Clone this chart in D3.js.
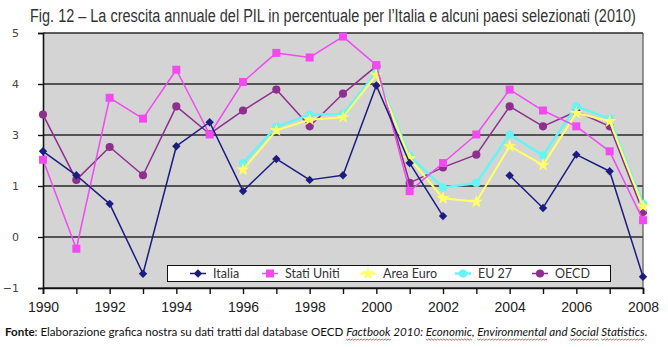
<!DOCTYPE html>
<html>
<head>
<meta charset="utf-8">
<script src="https://cdn.jsdelivr.net/npm/d3@7"></script>
<style>
  html, body { margin: 0; padding: 0; background: #fff; }
  svg { display: block; }
</style>
</head>
<body>
<svg id="chart" width="668" height="347"></svg>
<script>
// Years on the x axis
const years = [1990, 1991, 1992, 1993, 1994, 1995, 1996, 1997, 1998, 1999,
               2000, 2001, 2002, 2003, 2004, 2005, 2006, 2007, 2008];
const xTickYears = [1990, 1992, 1994, 1996, 1998, 2000, 2002, 2004, 2006, 2008];
// Values printed on the y axis
const yTickValues = [5, 4, 3, 1, 0, -1];

// Annual GDP growth (%) per country / area
const italia      = [2.36, 1.42, 0.65, -0.72, 2.56, 3.25, 0.90, 2.06, 1.24, 1.42,
                     3.97, 1.90, 0.41, null, 1.41, 0.57, 2.23, 1.58, -0.78];
const statiUniti  = [2.03, -0.23, 3.73, 3.32, 4.28, 3.01, 4.04, 4.61, 4.52, 4.93,
                     4.37, 0.90, 1.90, 3.01, 3.89, 3.48, 3.17, 2.36, 0.33];
const areaEuro    = [null, null, null, null, null, null, 1.64, 3.09, 3.30, 3.35,
                     4.18, 2.08, 0.76, 0.69, 2.56, 1.82, 3.43, 3.27, 0.60];
const eu27        = [null, null, null, null, null, null, 1.90, 3.16, 3.40, 3.41,
                     4.22, 2.18, 0.97, 1.12, 3.01, 2.20, 3.56, 3.32, 0.65];
const oecd        = [3.40, 1.24, 2.53, 1.42, 3.56, 3.02, 3.48, 3.89, 3.17, 3.81,
                     4.35, 1.12, 1.73, 2.23, 3.56, 3.17, 3.46, 3.17, 0.49];

const seriesNames = ["Italia", "Stati Uniti", "Area Euro", "EU 27", "OECD"];

const series = [
  { name: seriesNames[0], values: italia,     color: "#1c1c80", marker: "diamond", width: 1.5 },
  { name: seriesNames[1], values: statiUniti, color: "#f04af0", marker: "square",  width: 1.5 },
  { name: seriesNames[2], values: areaEuro,   color: "#ffff66", marker: "star",    width: 2 },
  { name: seriesNames[3], values: eu27,       color: "#66f4f4", marker: "circle",  width: 2.5 },
  { name: seriesNames[4], values: oecd,       color: "#8e2e8e", marker: "circle",  width: 1.5 }
];

const svg = d3.select("#chart");
const plot = { left: 43, right: 643, top: 33, bottom: 288 };

const x = d3.scaleLinear().domain([1990, 2008]).range([plot.left, plot.right]);
// The printed y labels are evenly spaced, so the scale is piecewise linear through them
const y = d3.scaleLinear()
  .domain([-1, 0, 1, 3, 4, 5])
  .range([288, 237, 186, 135, 84, 33]);

// Scale a text horizontally so that it spans the target width
function fitTo(sel, x0, y0, target) {
  const w = sel.node().getComputedTextLength();
  const k = target / w;
  sel.attr("x", 0).attr("y", 0)
    .attr("transform", `translate(${x0},${y0}) scale(${k.toFixed(4)},1)`);
  return k;
}

// Title
const title = svg.append("text")
  .style("font-family", "'Liberation Sans Narrow', 'Arial Narrow', 'Liberation Sans', sans-serif")
  .style("font-size", "18px")
  .style("fill", "#333")
  .text("Fig. 12 \u2013 La crescita annuale del PIL in percentuale per l\u2019Italia e alcuni paesi selezionati (2010)");
fitTo(title, 30, 22, 606);

// Plot background
svg.append("rect")
  .attr("x", plot.left).attr("y", plot.top)
  .attr("width", plot.right - plot.left).attr("height", plot.bottom - plot.top)
  .attr("fill", "#d4d4d4");

// Horizontal gridlines
svg.append("g")
  .selectAll("line")
  .data(yTickValues)
  .join("line")
  .attr("x1", plot.left).attr("x2", plot.right)
  .attr("y1", d => y(d)).attr("y2", d => y(d))
  .attr("stroke", "#2a2a2a").attr("stroke-width", 1.6);

// Right border
svg.append("line")
  .attr("x1", plot.right).attr("x2", plot.right)
  .attr("y1", plot.top).attr("y2", plot.bottom)
  .attr("stroke", "#555").attr("stroke-width", 1.2);

// Y axis
const yAxis = d3.axisLeft(y)
  .tickValues(yTickValues)
  .tickSize(5)
  .tickPadding(19)
  .tickFormat(d3.format("d"));
const gy = svg.append("g").attr("transform", `translate(${plot.left},0)`).call(yAxis);
gy.select(".domain").attr("stroke", "#111").attr("stroke-width", 1.6);
gy.selectAll(".tick line").attr("stroke", "#111").attr("stroke-width", 1.4);
gy.selectAll(".tick text")
  .style("font-family", "'DejaVu Sans', sans-serif")
  .style("font-size", "11px")
  .style("fill", "#444");

// X axis
const xAxis = d3.axisBottom(x)
  .tickValues(years)
  .tickSize(6)
  .tickPadding(8)
  .tickFormat(d => xTickYears.includes(d) ? d : "");
const gx = svg.append("g").attr("transform", `translate(0,${plot.bottom})`).call(xAxis);
gx.select(".domain").attr("stroke", "#111").attr("stroke-width", 1.6);
gx.selectAll(".tick line").attr("stroke", "#111").attr("stroke-width", 1.4);
gx.selectAll(".tick text")
  .style("font-family", "'Liberation Sans', Arial, sans-serif")
  .style("font-size", "14px")
  .style("fill", "#222");

// Marker shapes
function markerPath(kind) {
  switch (kind) {
    case "diamond": return "M0,-4.2L4.2,0L0,4.2L-4.2,0Z";
    case "square":  return "M-4,-4H4V4H-4Z";
    case "circle":  return d3.symbol(d3.symbolCircle, 52)();
    case "star":    return d3.symbol(d3.symbolStar, 55)();
  }
}

const line = d3.line()
  .defined(d => d.v != null)
  .x(d => x(d.year))
  .y(d => y(d.v));

// Draw the series; the first one listed ends up on top
const drawOrder = series.slice().reverse();
const gs = svg.append("g")
  .selectAll("g")
  .data(drawOrder)
  .join("g");

gs.append("path")
  .attr("d", s => line(years.map((yr, i) => ({ year: yr, v: s.values[i] }))))
  .attr("fill", "none")
  .attr("stroke", s => s.color)
  .attr("stroke-width", s => s.width)
  .attr("stroke-linejoin", "round");

gs.each(function (s) {
  d3.select(this).selectAll("path.m")
    .data(years.map((yr, i) => ({ year: yr, v: s.values[i] })).filter(d => d.v != null))
    .join("path")
    .attr("class", "m")
    .attr("d", markerPath(s.marker))
    .attr("transform", d => `translate(${x(d.year)},${y(d.v)})`)
    .attr("fill", s.color);
});

// Legend
const legend = svg.append("g");
legend.append("rect")
  .attr("x", 167.5).attr("y", 265.5)
  .attr("width", 443).attr("height", 16)
  .attr("fill", "#fff").attr("stroke", "#111").attr("stroke-width", 1);

const legendX = [198, 270, 368, 463, 540];
series.forEach((s, i) => {
  const cx = legendX[i];
  const g = legend.append("g").attr("transform", `translate(${cx},273.5)`);
  g.append("line").attr("x1", -8).attr("x2", 8)
    .attr("stroke", s.color).attr("stroke-width", s.width);
  g.append("path").attr("d", markerPath(s.marker)).attr("fill", s.color);
  g.append("text")
    .attr("x", 15).attr("y", 4.5)
    .style("font-family", "Lato, 'Open Sans', sans-serif")
    .style("font-size", "12.5px")
    .style("fill", "#333")
    .text(s.name);
});

// Source note
const note = svg.append("text")
  .style("font-family", "Lato, 'Open Sans', sans-serif")
  .style("font-size", "11.5px")
  .style("fill", "#111");
note.append("tspan").style("font-weight", "bold").text("Fonte");
note.append("tspan").text(": Elaborazione grafica nostra su dati tratti dal database OECD ");
note.append("tspan").style("font-style", "italic")
  .text("Factbook 2010: Economic, Environmental and Social Statistics");
note.append("tspan").text(".");
const noteK = fitTo(note, 5, 336, 643);

// Red wavy underline beneath the italic title words
const full = note.text();
const underlined = ["Factbook", "Economic", "Environmental", "Social", "Statistics"];
const nNode = note.node();
underlined.forEach(w => {
  const i0 = full.indexOf(w);
  if (i0 < 0) return;
  const a = nNode.getExtentOfChar(i0);
  const b = nNode.getExtentOfChar(i0 + w.length - 1);
  const x0 = 5 + a.x * noteK, x1 = 5 + (b.x + b.width) * noteK;
  const yy = 339;
  let d = `M${x0},${yy}`;
  for (let px = x0, k = 0; px < x1; px += 1.5, k++) {
    d += `L${Math.min(px + 1.5, x1)},${yy + (k % 2 ? 0 : 1.2)}`;
  }
  svg.append("path").attr("d", d).attr("fill", "none")
    .attr("stroke", "#e03030").attr("stroke-width", 0.8);
});
</script>
</body>
</html>
